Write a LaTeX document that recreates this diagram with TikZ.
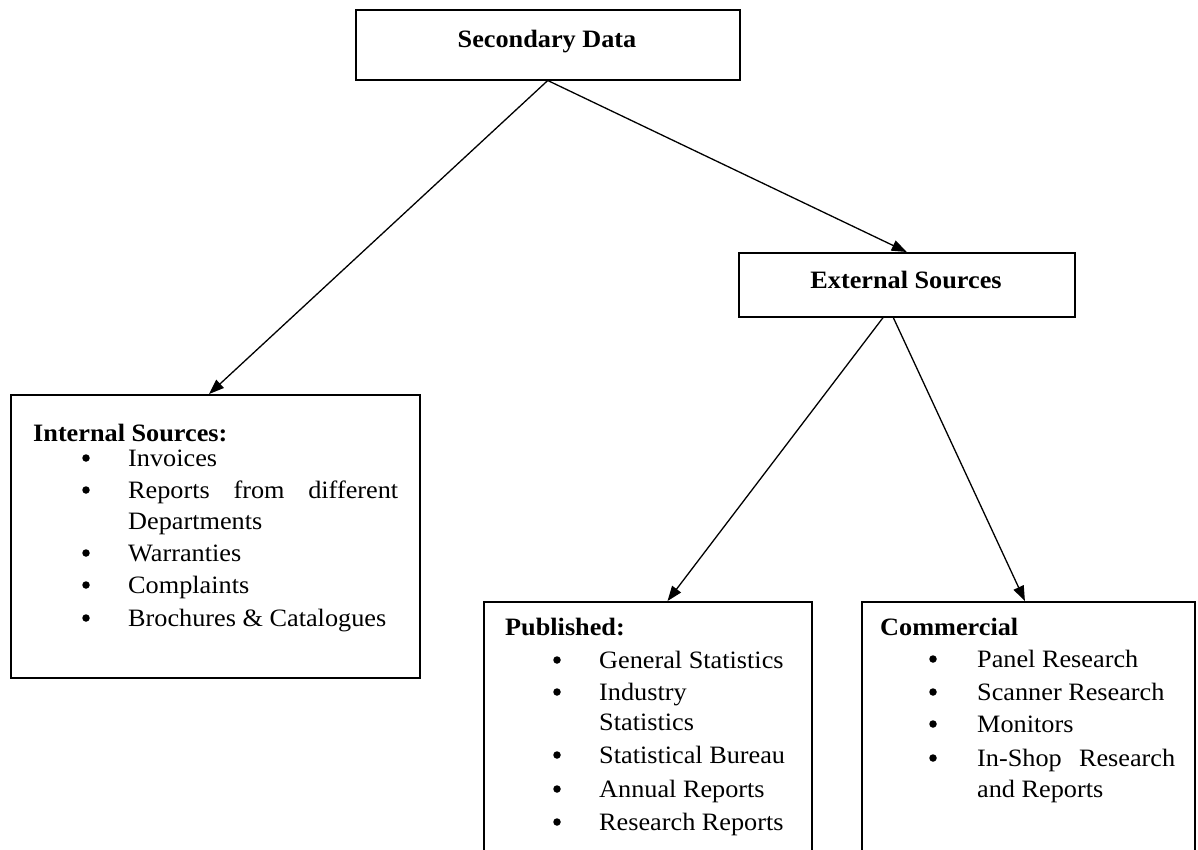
\documentclass[tikz,border=0pt]{standalone}
\usepackage{fontspec}
\setmainfont{Liberation Serif}[FakeStretch=1.05]
\usetikzlibrary{arrows.meta,calc}

% one bulleted line: name, bullet x, text x, baseline y, text
\newcommand\itemrow[5]{%
  \node[dot] (#1b) at (#2,#4-8) {};
  \node[txt] (#1) at (#3,#4) {#5};}

\begin{document}
\begin{tikzpicture}[x=1pt,y=-1pt,
  box/.style={draw, line width=1.5pt, inner sep=0pt, anchor=north west},
  txt/.style={inner sep=0pt, anchor=base west, font=\fontsize{25}{30}\selectfont},
  head/.style={txt, font=\fontsize{25}{30}\selectfont\bfseries},
  dot/.style={circle, fill, inner sep=0pt, minimum size=7.5pt},
  link/.style={line width=1.3pt, -{Triangle[length=15pt,width=11pt]}}]

\useasboundingbox (0,0) rectangle (1198,849);
\clip (0,0) rectangle (1198,849);

% boxes
\node[box, minimum width=384pt, minimum height=70pt] (sec) at (355,9) {};
\node[box, minimum width=336pt, minimum height=64pt] (ext) at (738,252) {};
\node[box, minimum width=409pt, minimum height=283pt] (int) at (10,394) {};
\node[box, minimum width=328pt, minimum height=300pt] (pub) at (483,601) {};
\node[box, minimum width=333pt, minimum height=300pt] (com) at (861,601) {};

% titles
\node[head, anchor=base] (secT) at (547,47) {Secondary Data};
\node[head, anchor=base] (extT) at (906,288) {External Sources};

% internal sources
\node[head] (intT) at (33,441) {Internal Sources:};
\itemrow{i1}{86}{128}{466}{Invoices}
\itemrow{i2}{86}{128}{498}{\makebox[270pt][s]{Reports from different}}
\node[txt] (i2b) at (128,529) {Departments};
\itemrow{i3}{86}{128}{561}{Warranties}
\itemrow{i4}{86}{128}{593}{Complaints}
\itemrow{i5}{86}{128}{626}{Brochures \& Catalogues}

% published
\node[head] (pubT) at (505,635) {Published:};
\itemrow{p1}{557}{599}{668}{General Statistics}
\itemrow{p2}{557}{599}{700}{Industry}
\node[txt] (p2b) at (599,730) {Statistics};
\itemrow{p3}{557}{599}{763}{Statistical Bureau}
\itemrow{p4}{557}{599}{797}{Annual Reports}
\itemrow{p5}{557}{599}{830}{Research Reports}

% commercial
\node[head] (comT) at (880,635) {Commercial};
\itemrow{c1}{933}{977}{667}{Panel Research}
\itemrow{c2}{933}{977}{700}{Scanner Research}
\itemrow{c3}{933}{977}{732}{Monitors}
\itemrow{c4}{933}{977}{766}{\makebox[198pt][s]{In-Shop Research}}
\node[txt] (c4b) at (977,797) {and Reports};

% connectors
\draw[link] (sec.south) -- ($(int.north west)!0.485!(int.north east)$);
\draw[link] (sec.south) -- (ext.north);
\draw[link] ($(ext.south west)!0.43!(ext.south east)$) -- ($(pub.north west)!0.56!(pub.north east)$);
\draw[link] ($(ext.south west)!0.46!(ext.south east)$) -- ($(com.north west)!0.49!(com.north east)$);
\end{tikzpicture}
\end{document}
